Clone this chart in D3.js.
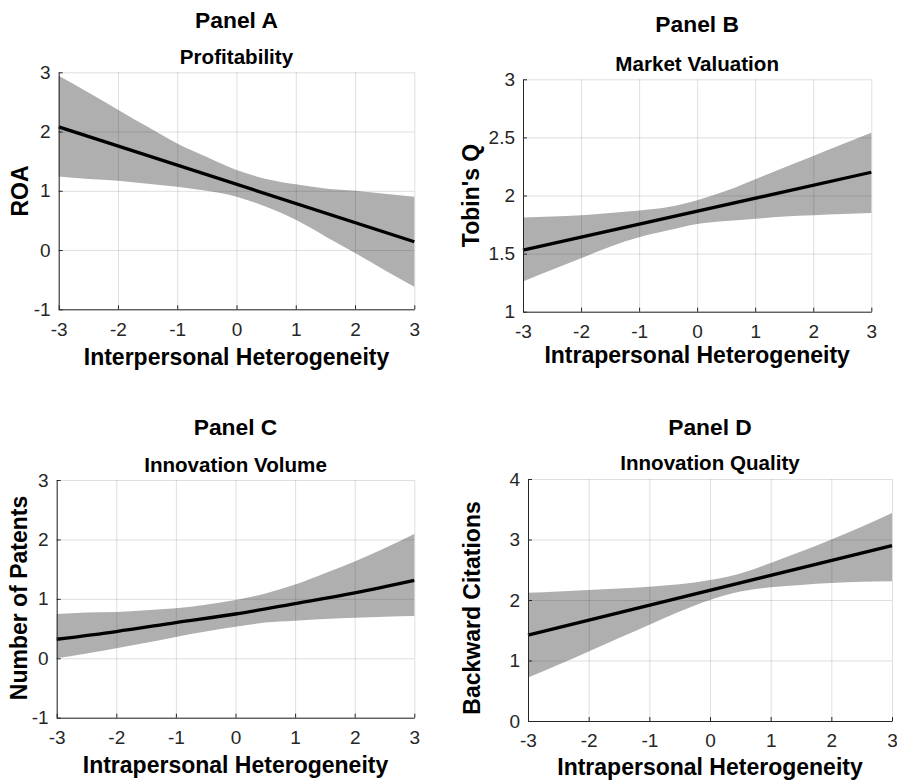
<!DOCTYPE html>
<html>
<head>
<meta charset="utf-8">
<script src="https://cdn.jsdelivr.net/npm/d3@7"></script>
<style>
  body { margin: 0; background: #fff; }
  svg text { font-family: "Liberation Sans", Arial, Helvetica, sans-serif; }
</style>
</head>
<body>
<div id="chart"></div>
<script>
// x positions shared by every panel
var xTicks = [-3, -2, -1, 0, 1, 2, 3];
var bandX = [-3, -2.5, -2, -1.5, -1, -0.5, 0, 0.5, 1, 1.5, 2, 2.5, 3];

// Panel A - Profitability
var aFitX = [-3, 3];
var aFit = [2.08, 0.14];
var aUpper = [2.94, 2.66, 2.37, 2.08, 1.80, 1.57, 1.35, 1.20, 1.11, 1.04, 1.00, 0.95, 0.90];
var aLower = [1.24, 1.20, 1.17, 1.12, 1.07, 1.00, 0.90, 0.73, 0.51, 0.23, -0.05, -0.34, -0.62];
var aYTicks = [-1, 0, 1, 2, 3];

// Panel B - Market Valuation
var bFitX = [-3, 3];
var bFit = [1.53, 2.20];
var bUpper = [1.81, 1.82, 1.83, 1.85, 1.87, 1.90, 1.96, 2.04, 2.14, 2.24, 2.34, 2.44, 2.54];
var bLower = [1.26, 1.36, 1.46, 1.56, 1.64, 1.70, 1.755, 1.78, 1.80, 1.82, 1.83, 1.84, 1.85];
var bYTicks = [1, 1.5, 2, 2.5, 3];

// Panel C - Innovation Volume
var cFitX = [-3, -2, -1, 0, 1, 2, 3];
var cFit = [0.32, 0.45, 0.60, 0.745, 0.92, 1.10, 1.31];
var cUpper = [0.745, 0.77, 0.78, 0.81, 0.84, 0.90, 0.98, 1.09, 1.24, 1.43, 1.63, 1.85, 2.09];
var cLower = [0.00, 0.08, 0.17, 0.26, 0.36, 0.45, 0.53, 0.60, 0.63, 0.66, 0.68, 0.70, 0.71];
var cYTicks = [-1, 0, 1, 2, 3];

// Panel D - Innovation Quality
var dFitX = [-3, 3];
var dFit = [1.42, 2.90];
var dUpper = [2.12, 2.14, 2.165, 2.19, 2.22, 2.26, 2.33, 2.44, 2.61, 2.80, 3.00, 3.21, 3.44];
var dLower = [0.72, 0.93, 1.15, 1.37, 1.59, 1.81, 2.00, 2.14, 2.21, 2.25, 2.28, 2.30, 2.31];
var dYTicks = [0, 1, 2, 3, 4];

var panelTitles = ["Panel A", "Panel B", "Panel C", "Panel D"];
var subTitles = ["Profitability", "Market Valuation", "Innovation Volume", "Innovation Quality"];
var xLabels = ["Interpersonal Heterogeneity", "Intrapersonal Heterogeneity", "Intrapersonal Heterogeneity", "Intrapersonal Heterogeneity"];
var yLabels = ["ROA", "Tobin's Q", "Number of Patents", "Backward Citations"];

var panels = [
  { fitX: aFitX, fit: aFit, upper: aUpper, lower: aLower, yTicks: aYTicks,
    left: 58.7, right: 414.3, top: 72.3, bottom: 309.3,
    titleY: 28, subY: 64, xLabY: 365, yLabX: 28, yLabY: 191 },
  { fitX: bFitX, fit: bFit, upper: bUpper, lower: bLower, yTicks: bYTicks,
    left: 523, right: 871.3, top: 79.3, bottom: 311.7,
    titleY: 31.7, subY: 71, xLabY: 363, yLabX: 479, yLabY: 195.5 },
  { fitX: cFitX, fit: cFit, upper: cUpper, lower: cLower, yTicks: cYTicks,
    left: 56.7, right: 414.3, top: 480, bottom: 717.7,
    titleY: 435, subY: 471.7, xLabY: 773, yLabX: 27, yLabY: 598 },
  { fitX: dFitX, fit: dFit, upper: dUpper, lower: dLower, yTicks: dYTicks,
    left: 528, right: 892, top: 479, bottom: 721,
    titleY: 435, subY: 470, xLabY: 775, yLabX: 480, yLabY: 608 }
];

var svg = d3.select("#chart").append("svg")
  .attr("width", 897)
  .attr("height", 781);

panels.forEach(function(p, i) {
  var x = d3.scaleLinear().domain([-3, 3]).range([p.left, p.right]);
  var y = d3.scaleLinear().domain(d3.extent(p.yTicks)).range([p.bottom, p.top]);
  var g = svg.append("g");
  var cx = (p.left + p.right) / 2;

  // confidence band
  var area = d3.area()
    .x(function(d) { return x(d.x); })
    .y0(function(d) { return y(d.lo); })
    .y1(function(d) { return y(d.hi); })
    .curve(d3.curveMonotoneX);
  var band = bandX.map(function(v, j) { return { x: v, lo: p.lower[j], hi: p.upper[j] }; });
  g.append("path").datum(band)
    .attr("d", area)
    .attr("fill", "#afafaf");

  // grid on top of the band, like matlab
  g.append("g")
    .attr("transform", "translate(0," + p.bottom + ")")
    .call(d3.axisBottom(x).tickValues(xTicks).tickSize(-(p.bottom - p.top)).tickFormat(""))
    .call(function(s) { s.select(".domain").remove(); })
    .selectAll("line").attr("stroke", "#262626").attr("stroke-opacity", 0.15);
  g.append("g")
    .attr("transform", "translate(" + p.left + ",0)")
    .call(d3.axisLeft(y).tickValues(p.yTicks).tickSize(-(p.right - p.left)).tickFormat(""))
    .call(function(s) { s.select(".domain").remove(); })
    .selectAll("line").attr("stroke", "#262626").attr("stroke-opacity", 0.15);

  // fitted line
  var line = d3.line()
    .x(function(d, j) { return x(p.fitX[j]); })
    .y(function(d) { return y(d); })
    .curve(d3.curveMonotoneX);
  g.append("path").datum(p.fit)
    .attr("d", line)
    .attr("fill", "none")
    .attr("stroke", "#000")
    .attr("stroke-width", 3.3);

  // axes, ticks pointing inward
  var xa = g.append("g")
    .attr("transform", "translate(0," + p.bottom + ")")
    .call(d3.axisBottom(x).tickValues(xTicks).tickSizeInner(-4).tickSizeOuter(0).tickPadding(13).tickFormat(d3.format("d")));
  var ya = g.append("g")
    .attr("transform", "translate(" + p.left + ",0)")
    .call(d3.axisLeft(y).tickValues(p.yTicks).tickSizeInner(-4).tickSizeOuter(0).tickPadding(8).tickFormat(function(d) { return String(d); }));
  [xa, ya].forEach(function(a) {
    a.select(".domain").attr("stroke", "#262626");
    a.selectAll(".tick line").attr("stroke", "#262626");
    a.selectAll("text")
      .attr("fill", "#262626")
      .style("font-size", "19px");
  });
  xa.selectAll("text").text(function(d) { return String(d); });

  // titles and labels
  g.append("text")
    .attr("x", cx).attr("y", p.titleY)
    .attr("text-anchor", "middle")
    .style("font-size", "22.8px").style("font-weight", "bold")
    .text(panelTitles[i]);
  g.append("text")
    .attr("x", cx).attr("y", p.subY)
    .attr("text-anchor", "middle")
    .style("font-size", "20.6px").style("font-weight", "bold")
    .text(subTitles[i]);
  g.append("text")
    .attr("x", cx).attr("y", p.xLabY)
    .attr("text-anchor", "middle")
    .style("font-size", "23px").style("font-weight", "bold")
    .text(xLabels[i]);
  g.append("text")
    .attr("transform", "translate(" + p.yLabX + "," + p.yLabY + ") rotate(-90)")
    .attr("text-anchor", "middle")
    .style("font-size", "23px").style("font-weight", "bold")
    .text(yLabels[i]);
});
</script>
</body>
</html>
